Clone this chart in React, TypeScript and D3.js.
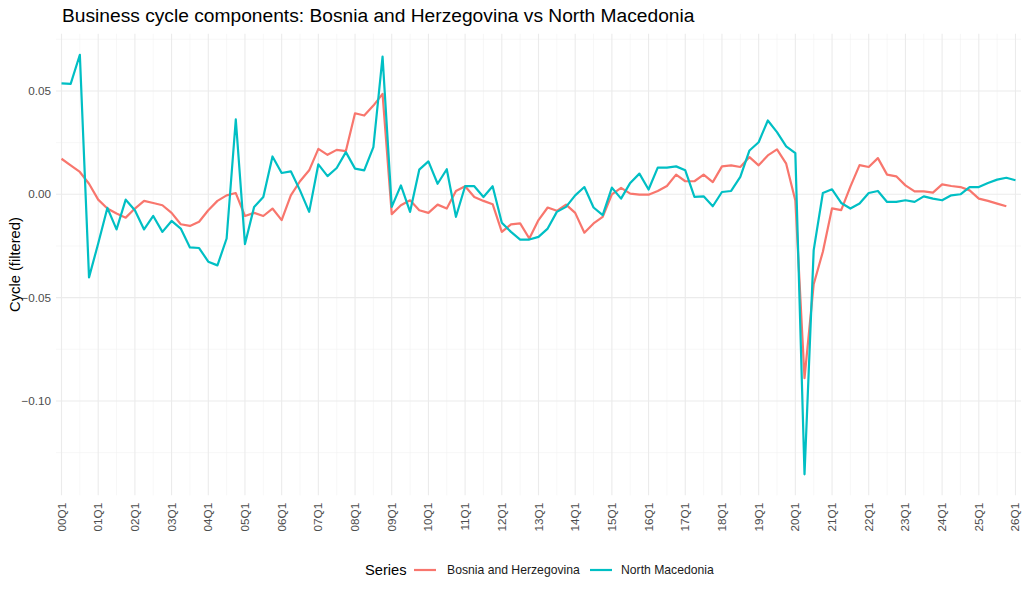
import * as d3 from "d3";
import { useMemo } from "react";

// quarter labels 00Q1 .. 26Q1
const quarters: string[] = [];
for (let y = 0; y <= 26; y++) {
  for (let q = 1; q <= 4; q++) {
    if (y === 26 && q > 1) break;
    quarters.push(`${String(y).padStart(2, "0")}Q${q}`);
  }
}

const tickLabels = quarters.filter((d) => d.endsWith("Q1"));

const bih = [
  0.0172, 0.014, 0.0108, 0.0051, -0.0026, -0.0069, -0.0093, -0.0113, -0.0069, -0.0032,
  -0.0042, -0.0053, -0.009, -0.0145, -0.0153, -0.0133, -0.0077, -0.0032, -0.0005, 0.0006,
  -0.0105, -0.009, -0.0105, -0.0069, -0.0125, -0.0005, 0.0063, 0.0116, 0.022, 0.0191,
  0.0215, 0.0209, 0.0392, 0.0381, 0.0429, 0.0486, -0.0096, -0.0053, -0.0029, -0.0077,
  -0.009, -0.005, -0.0069, 0.0016, 0.0039, -0.0013, -0.0032, -0.0048, -0.0182, -0.0146,
  -0.0141, -0.0214, -0.0125, -0.0064, -0.008, -0.005, -0.009, -0.0186, -0.0141, -0.0109,
  0.0, 0.0031, 0.0003, -0.0002, -0.0002, 0.0016, 0.004, 0.0095, 0.0063, 0.0063,
  0.0095, 0.0059, 0.0135, 0.014, 0.0132, 0.018, 0.014, 0.0188, 0.0217, 0.0148,
  -0.003, -0.089, -0.0435, -0.0278, -0.0068, -0.0077, 0.0037, 0.0141, 0.0132, 0.0175,
  0.0095, 0.0087, 0.0043, 0.0014, 0.0014, 0.0008, 0.0048, 0.004, 0.0035, 0.0019,
  -0.0021, -0.0032, -0.0045, -0.0058,
];

const nmk = [
  0.0537, 0.0534, 0.0675, -0.0402, -0.0238, -0.0066, -0.017, -0.0026, -0.0077, -0.017,
  -0.0105, -0.0182, -0.0129, -0.0166, -0.0257, -0.026, -0.0326, -0.0344, -0.0214, 0.0362,
  -0.0241, -0.0061, -0.0013, 0.0183, 0.0103, 0.0111, 0.0019, -0.0085, 0.0145, 0.0088,
  0.0127, 0.0204, 0.0124, 0.0116, 0.0228, 0.0666, -0.0061, 0.0043, -0.0085, 0.0119,
  0.0159, 0.0051, 0.0121, -0.0109, 0.0039, 0.0039, -0.0013, 0.0039, -0.0138, -0.0182,
  -0.0219, -0.0219, -0.0206, -0.0166, -0.0085, -0.0061, -0.0005, 0.0035, -0.0064, -0.0101,
  0.0032, -0.0021, 0.0055, 0.01, 0.0023, 0.0129, 0.0129, 0.0135, 0.0116, -0.0013,
  -0.001, -0.0058, 0.0011, 0.0016, 0.0084, 0.0212, 0.0252, 0.0357, 0.0301, 0.0232,
  0.0199, -0.1355, -0.027, 0.0006, 0.0024, -0.0042, -0.0069, -0.0045, 0.0006, 0.0016,
  -0.0037, -0.0037, -0.0029, -0.0037, -0.001, -0.0021, -0.0029, -0.0005, 0, 0.0035,
  0.0035, 0.0055, 0.0071, 0.008, 0.0068,
];

const seriesNames = ["Bosnia and Herzegovina", "North Macedonia"];
const colors = ["#F8766D", "#00BFC4"];
const yTicks = [-0.1, -0.05, 0, 0.05];
const yMinor = [-0.125, -0.075, -0.025, 0.025, 0.075];

const WIDTH = 1024;
const HEIGHT = 597;
const PANEL = { left: 56, right: 1021, top: 33.8, bottom: 495.3 };
const FONT = "'Liberation Sans', Arial, sans-serif";

function CycleChart() {
  const xScale = useMemo(
    () => d3.scalePoint<string>().domain(quarters).range([PANEL.left, PANEL.right]).padding(0.6),
    []
  );

  const yScale = useMemo(() => {
    const all = [...bih, ...nmk];
    const lo = d3.min(all)!;
    const hi = d3.max(all)!;
    const pad = (hi - lo) * 0.05;
    return d3.scaleLinear().domain([lo - pad, hi + pad]).range([PANEL.bottom, PANEL.top]);
  }, []);

  const line = d3
    .line<number>()
    .x((_, i) => xScale(quarters[i])!)
    .y((d) => yScale(d));

  // grid every two quarters: Q1 major, Q3 minor
  const vMinor = quarters.filter((d) => d.endsWith("Q3"));

  const fmt = d3.format(".2f");

  return (
    <svg
      width={WIDTH}
      height={HEIGHT}
      style={{ position: "absolute", left: 0, top: 0, background: "#fff" }}
      fontFamily={FONT}
    >
      {/* grid */}
      <g>
        {yMinor.map((t) => (
          <line key={"ym" + t} x1={PANEL.left} x2={PANEL.right} y1={yScale(t)} y2={yScale(t)} stroke="#F2F2F2" strokeWidth={0.6} />
        ))}
        {vMinor.map((q) => (
          <line key={"xm" + q} x1={xScale(q)} x2={xScale(q)} y1={PANEL.top} y2={PANEL.bottom} stroke="#F2F2F2" strokeWidth={0.6} />
        ))}
        {yTicks.map((t) => (
          <line key={"y" + t} x1={PANEL.left} x2={PANEL.right} y1={yScale(t)} y2={yScale(t)} stroke="#EBEBEB" strokeWidth={1.1} />
        ))}
        {tickLabels.map((q) => (
          <line key={"x" + q} x1={xScale(q)} x2={xScale(q)} y1={PANEL.top} y2={PANEL.bottom} stroke="#EBEBEB" strokeWidth={1.1} />
        ))}
      </g>

      {/* lines */}
      {[bih, nmk].map((s, i) => (
        <path key={i} d={line(s)!} fill="none" stroke={colors[i]} strokeWidth={2.2} strokeLinejoin="round" />
      ))}

      {/* y axis */}
      {yTicks.map((t) => (
        <text key={"yl" + t} x={51} y={yScale(t)} dy="0.35em" textAnchor="end" fontSize={11.7} fill="#4D4D4D">
          {fmt(t)}
        </text>
      ))}
      <text
        transform={`translate(20,${(PANEL.top + PANEL.bottom) / 2}) rotate(-90)`}
        textAnchor="middle"
        fontSize={14.7}
        fill="#000"
      >
        Cycle (filtered)
      </text>

      {/* x axis */}
      {tickLabels.map((q) => (
        <text
          key={"xl" + q}
          transform={`translate(${xScale(q)! + 4},${PANEL.bottom + 7.5}) rotate(-90)`}
          textAnchor="end"
          fontSize={11.7}
          fill="#4D4D4D"
        >
          {q}
        </text>
      ))}

      {/* title */}
      <text x={62} y={22} fontSize={19.2} fill="#000">
        Business cycle components: Bosnia and Herzegovina vs North Macedonia
      </text>

      {/* legend */}
      <g transform="translate(0,570)">
        <text x={365} y={0} dy="0.35em" fontSize={14.7} fill="#000">
          Series
        </text>
        <line x1={414} x2={436} y1={0} y2={0} stroke={colors[0]} strokeWidth={2.2} />
        <text x={447} y={0} dy="0.35em" fontSize={12.2} fill="#1A1A1A">
          {seriesNames[0]}
        </text>
        <line x1={590} x2={612} y1={0} y2={0} stroke={colors[1]} strokeWidth={2.2} />
        <text x={621} y={0} dy="0.35em" fontSize={12.2} fill="#1A1A1A">
          {seriesNames[1]}
        </text>
      </g>
    </svg>
  );
}

export default function App() {
  return (
    <div>
      <CycleChart />
    </div>
  );
}
